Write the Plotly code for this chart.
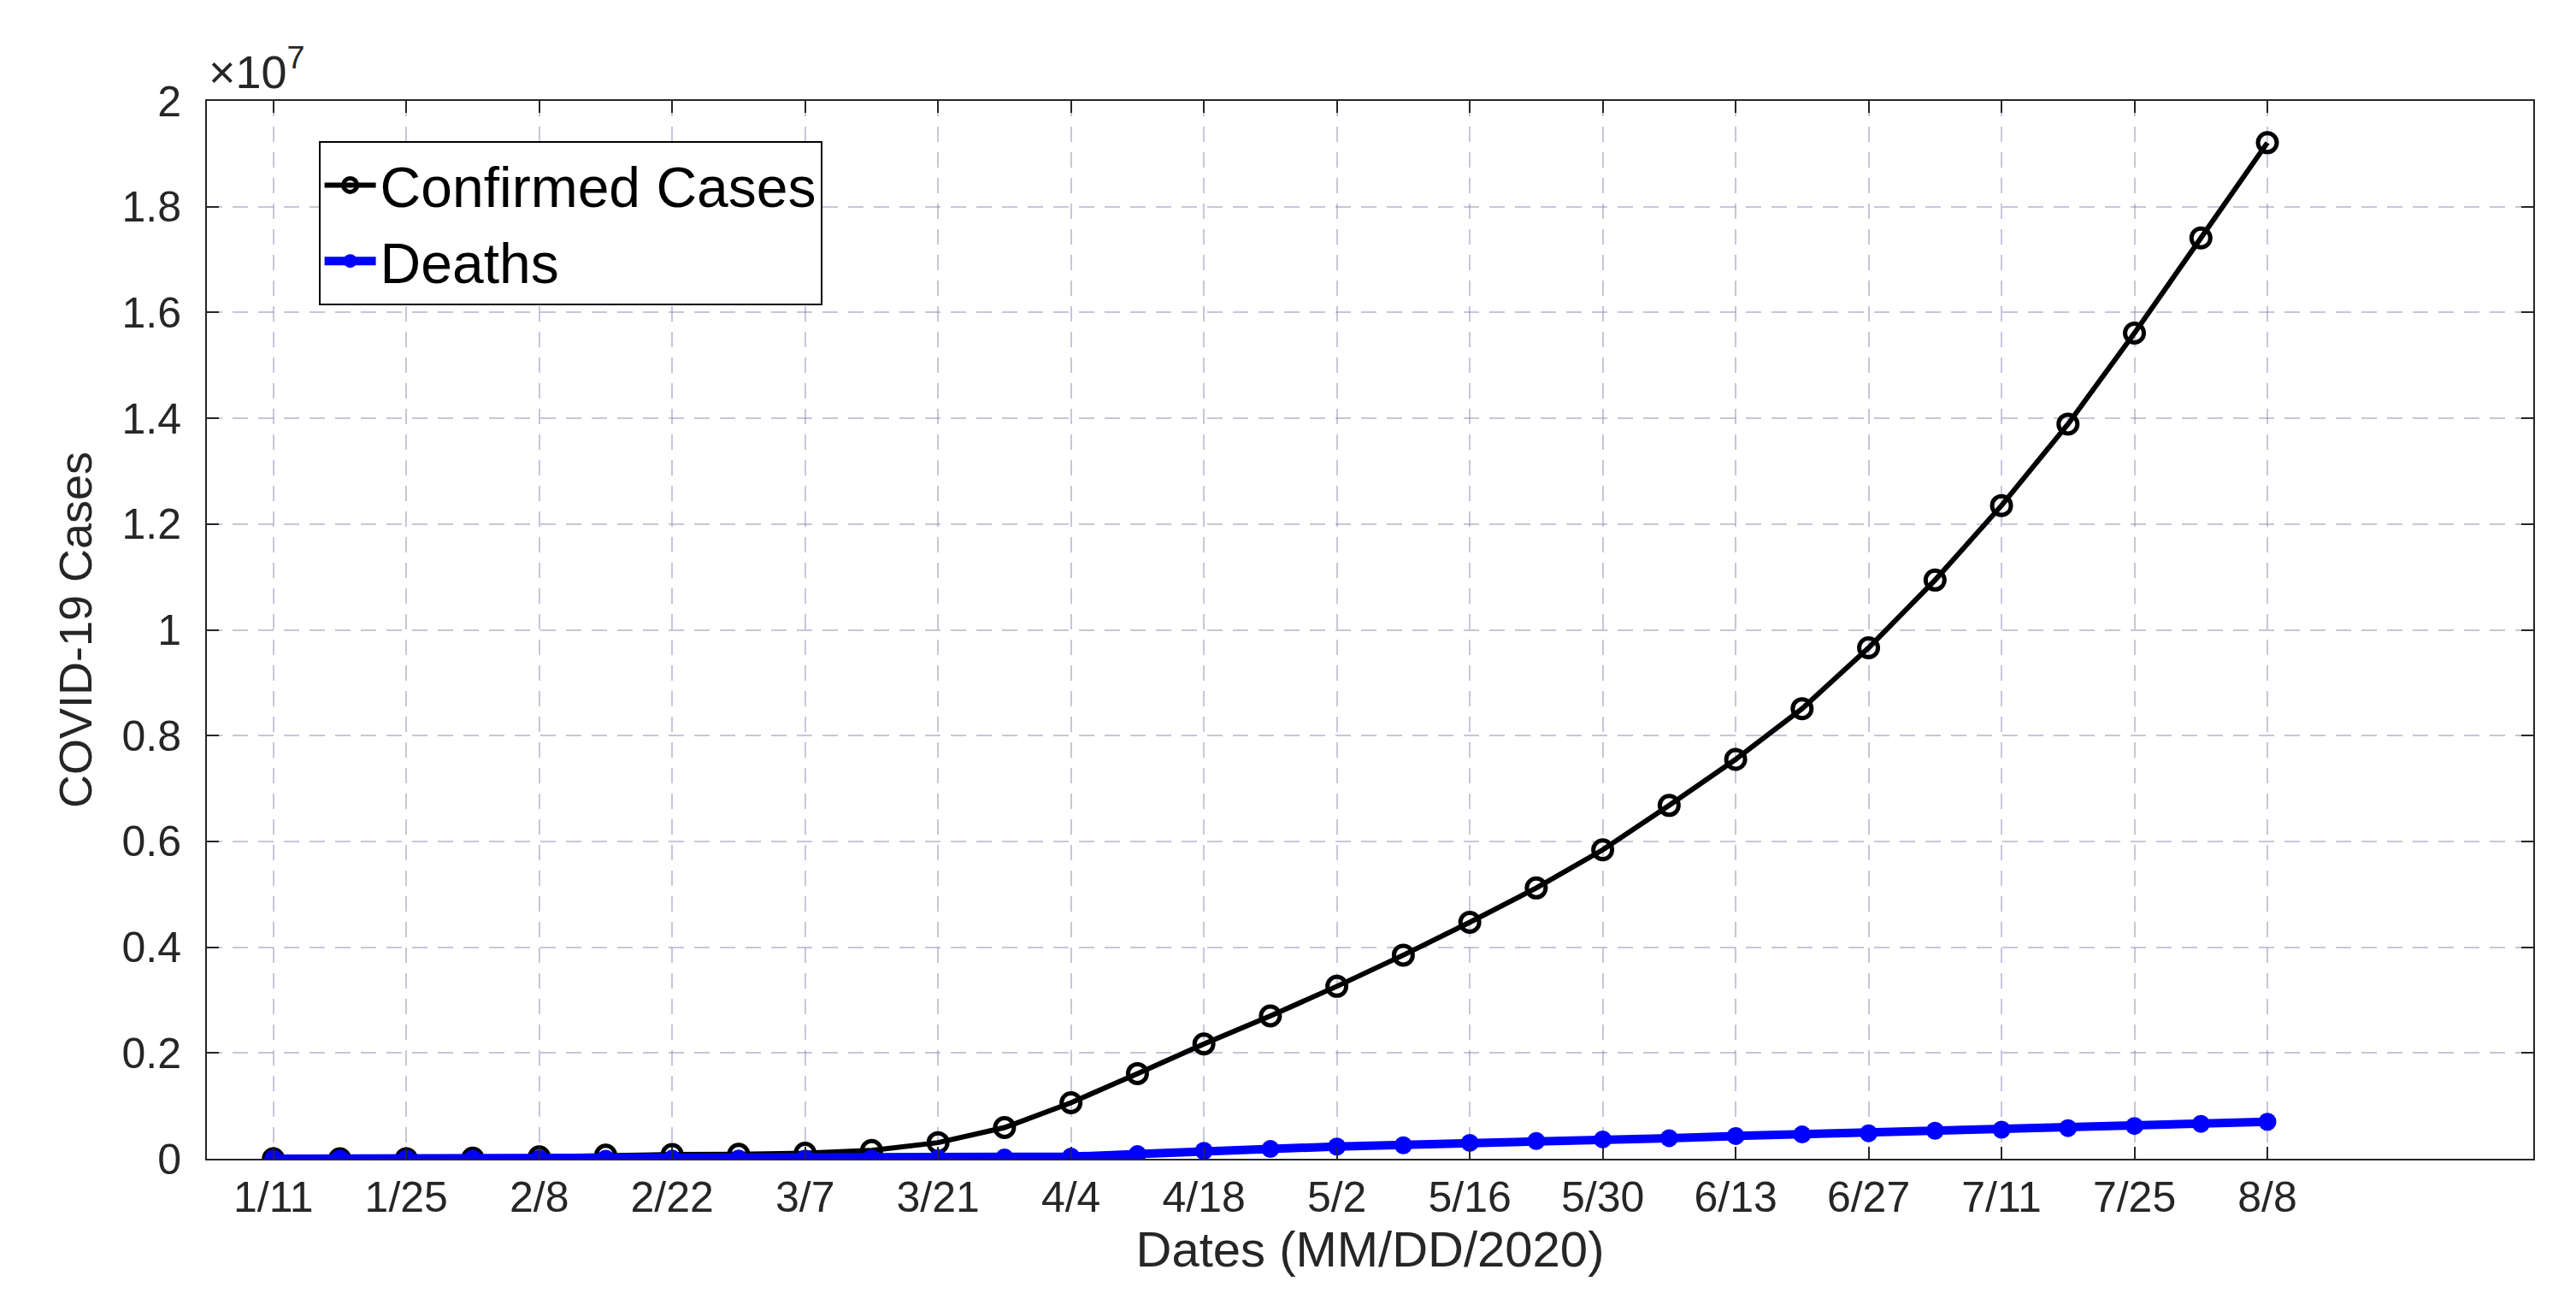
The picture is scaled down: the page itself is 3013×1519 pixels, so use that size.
"""Weekly confirmed COVID-19 cases and deaths, Jan to Aug 2020."""

import plotly.graph_objects as go

# weekly dates (MM/DD/2020)
dates = ["1/11", "1/18", "1/25", "2/1", "2/8", "2/15", "2/22", "2/29", "3/7", "3/14",
         "3/21", "3/28", "4/4", "4/11", "4/18", "4/25", "5/2", "5/9", "5/16", "5/23",
         "5/30", "6/6", "6/13", "6/20", "6/27", "7/4", "7/11", "7/18", "7/25", "8/1", "8/8"]

confirmed = [41, 282, 2000, 12000, 37000, 69000, 79000, 86000, 106000, 157000,
             305000, 590000, 1060000, 1610000, 2170000, 2700000, 3260000, 3850000,
             4470000, 5120000, 5840000, 6680000, 7550000, 8510000, 9660000,
             10940000, 12350000, 13890000, 15610000, 17410000, 19210000]

deaths = [1, 3, 56, 259, 813, 1666, 2460, 2940, 3500, 5800,
          13000, 25000, 40000, 87000, 150000, 185000, 230000, 255000,
          300000, 335000, 365000, 390000, 430000, 460000, 482000,
          530000, 550000, 580000, 620000, 660000, 700000]

y_ticks = [0, 2e6, 4e6, 6e6, 8e6, 1e7, 1.2e7, 1.4e7, 1.6e7, 1.8e7, 2e7]

FONT = "Liberation Sans, Arial, sans-serif"
INK = "#262626"
GRID = "rgba(120,120,170,0.42)"

fig = go.Figure()
fig.add_trace(go.Scatter(
    x=dates, y=confirmed, name="Confirmed Cases",
    mode="lines+markers",
    line=dict(color="black", width=6),
    marker=dict(symbol="circle-open", size=22, color="black",
                line=dict(width=5, color="black")),
))
fig.add_trace(go.Scatter(
    x=dates, y=deaths, name="Deaths",
    mode="lines+markers",
    line=dict(color="#0000ff", width=10),
    marker=dict(symbol="circle", size=21, color="#0000ff"),
))

axis_common = dict(
    showline=True, linecolor=INK, linewidth=2, mirror="ticks",
    ticks="inside", ticklen=14, tickwidth=2, tickcolor=INK,
    showgrid=True, gridcolor=GRID, gridwidth=2, griddash="18px,12px",
    zeroline=False,
    tickfont=dict(family=FONT, size=50, color=INK),
)

fig.update_xaxes(
    type="category", range=[-1, 34], tick0=0, dtick=2, ticklabelstandoff=0,
    title=dict(text="Dates (MM/DD/2020)", font=dict(family=FONT, size=58, color=INK),
               standoff=8),
    **axis_common,
)
fig.update_yaxes(
    range=[0, 2e7], tickvals=y_ticks, ticklabelstandoff=18,
    ticktext=[f"{v / 1e7:g}" for v in y_ticks],
    title=dict(text="COVID-19 Cases", font=dict(family=FONT, size=54, color=INK),
               standoff=18),
    **axis_common,
)

fig.add_annotation(
    xref="paper", yref="paper", x=0, y=1, xanchor="left", yanchor="bottom",
    text="×10<sup>7</sup>", showarrow=False, yshift=2,
    font=dict(family=FONT, size=54, color=INK),
)

fig.update_layout(
    width=3013, height=1519,
    margin=dict(l=234, r=58, t=110, b=172),
    paper_bgcolor="white", plot_bgcolor="white",
    showlegend=True,
    legend=dict(
        x=0.048, y=0.962, xanchor="left", yanchor="top",
        bgcolor="white", bordercolor="black", borderwidth=2,
        font=dict(family=FONT, size=66, color="black"),
        itemwidth=60, tracegroupgap=0,
    ),
)

fig.write_html("out.html")
